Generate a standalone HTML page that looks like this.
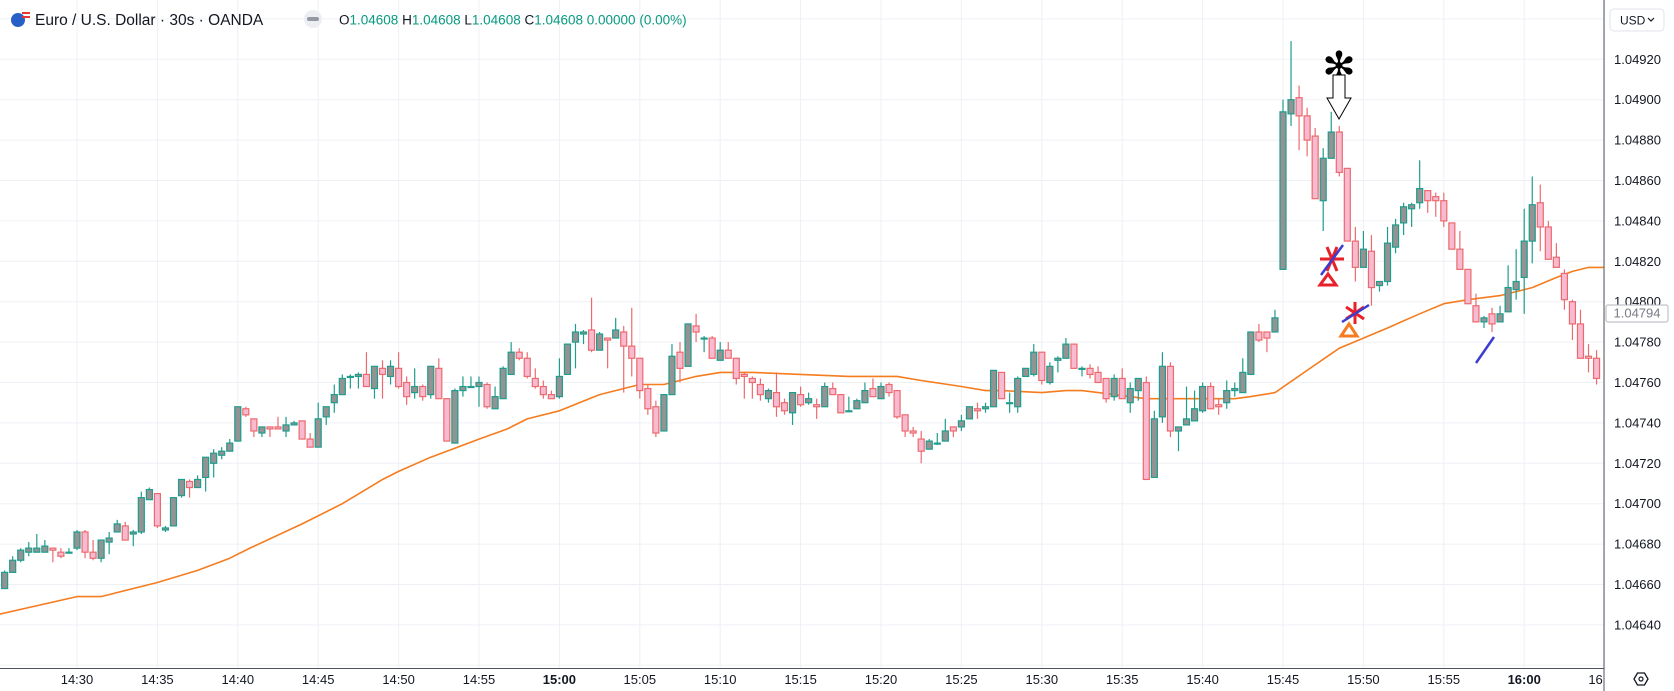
<!DOCTYPE html>
<html><head><meta charset="utf-8"><style>
html,body{margin:0;padding:0;background:#fff;}
svg{display:block;font-family:"Liberation Sans",sans-serif;}
</style></head><body>
<svg id="chart" width="1674" height="691" viewBox="0 0 1674 691" xmlns="http://www.w3.org/2000/svg">
<defs>
<clipPath id="plotClip"><rect x="0" y="0" width="1604" height="668"/></clipPath>
<clipPath id="timeClip"><rect x="0" y="668" width="1604" height="23"/></clipPath>
</defs>
<rect x="0" y="0" width="1674" height="691" fill="#ffffff"/>
<g id="grid"></g>
<g id="maLayer" clip-path="url(#plotClip)"></g>
<g id="candles" clip-path="url(#plotClip)"></g>
<g id="drawings">
  <text x="1339" y="80" text-anchor="middle" font-family="DejaVu Sans, sans-serif" font-size="40" fill="#000">✻</text>
  <polygon points="1333,75 1345,75 1345,98 1351,98 1339,119 1327,98 1333,98" fill="#fff" stroke="#000" stroke-width="1"/>
  <g stroke="#e8202a" stroke-width="3">
    <line x1="1320" y1="259" x2="1344" y2="259"/><line x1="1327" y1="247" x2="1337" y2="271"/><line x1="1337" y1="247" x2="1327" y2="271"/>
  </g>
  <line x1="1321" y1="275" x2="1343" y2="245" stroke="#3c3cd0" stroke-width="2.5"/>
  <polygon points="1328,274 1336,285 1320,285" fill="none" stroke="#e8202a" stroke-width="3"/>
  <g stroke="#e8202a" stroke-width="3">
    <line x1="1355" y1="302" x2="1355" y2="324"/><line x1="1346" y1="307" x2="1364" y2="319"/><line x1="1364" y1="307" x2="1346" y2="319"/>
  </g>
  <line x1="1342" y1="322" x2="1369" y2="305" stroke="#3c3cd0" stroke-width="2.5"/>
  <polygon points="1349,324 1357,336 1341,336" fill="none" stroke="#f57c20" stroke-width="3"/>
  <line x1="1476" y1="363" x2="1494" y2="337" stroke="#3c3cd0" stroke-width="2.5"/>
</g>
<g id="priceAxis"></g>
<g id="timeAxis"></g>
<line x1="1604" y1="0" x2="1604" y2="691" stroke="#50535e" stroke-width="1"/>
<line x1="0" y1="668.5" x2="1604" y2="668.5" stroke="#50535e" stroke-width="1"/>
<g>
  <rect x="1606" y="305" width="62" height="17" fill="#fff" stroke="#b2b5be" rx="2"/>
  <text x="1637" y="317.5" text-anchor="middle" font-size="13" fill="#787b86">1.04794</text>
</g>
<g>
  <rect x="1610" y="9" width="54" height="22" fill="#fff" stroke="#e0e3eb" rx="4"/>
  <text x="1620" y="24.5" font-size="12" fill="#131722">USD</text>
  <path d="M1648 18 l3 3 l3 -3" fill="none" stroke="#131722" stroke-width="1.2"/>
</g>
<g>
  <polygon points="1634,679 1637.5,673 1644.5,673 1648,679 1644.5,685 1637.5,685" fill="none" stroke="#131722" stroke-width="1.3"/>
  <circle cx="1641" cy="679" r="2" fill="none" stroke="#131722" stroke-width="1.2"/>
</g>
<g>
  <circle cx="18" cy="20" r="7" fill="#2860c8"/>
  <rect x="22" y="12" width="8" height="2" fill="#e53935"/><rect x="22" y="16" width="8" height="2" fill="#e53935"/>
  <text x="35" y="25" font-size="15.5" fill="#131722">Euro / U.S. Dollar · 30s · OANDA</text>
  <circle cx="313" cy="19" r="9" fill="#eceef2"/>
  <rect x="307" y="17" width="12" height="4" rx="2" fill="#9598a1"/>
  <text x="339" y="24.5" font-size="13.5"><tspan fill="#131722">O</tspan><tspan fill="#089981">1.04608 </tspan><tspan fill="#131722">H</tspan><tspan fill="#089981">1.04608 </tspan><tspan fill="#131722">L</tspan><tspan fill="#089981">1.04608 </tspan><tspan fill="#131722">C</tspan><tspan fill="#089981">1.04608 0.00000 (0.00%)</tspan></text>
</g>
</svg>
<script>
const startIndex = -9;
const opens = [1.04658,1.04666,1.04672,1.04676,1.04676,1.04676,1.04678,1.04676,1.04676,1.04678,1.04686,1.04676,1.04673,1.04681,1.04686,1.04689,1.04685,1.04686,1.04702,1.04705,1.04687,1.04689,1.04704,1.04711,1.04708,1.04713,1.04720,1.04724,1.04726,1.04731,1.04747,1.04742,1.04735,1.04738,1.04738,1.04736,1.04739,1.04741,1.04732,1.04728,1.04743,1.04750,1.04754,1.04763,1.04763,1.04764,1.04757,1.04767,1.04763,1.04767,1.04760,1.04755,1.04758,1.04754,1.04767,1.04752,1.04730,1.04756,1.04758,1.04758,1.04759,1.04747,1.04752,1.04764,1.04775,1.04772,1.04762,1.04758,1.04754,1.04753,1.04764,1.04780,1.04784,1.04786,1.04776,1.04782,1.04782,1.04785,1.04778,1.04772,1.04757,1.04748,1.04736,1.04754,1.04775,1.04768,1.04788,1.04782,1.04782,1.04771,1.04776,1.04772,1.04764,1.04762,1.04759,1.04752,1.04755,1.04750,1.04745,1.04754,1.04750,1.04749,1.04748,1.04757,1.04754,1.04746,1.04747,1.04750,1.04757,1.04752,1.04759,1.04756,1.04744,1.04736,1.04732,1.04727,1.04730,1.04731,1.04738,1.04738,1.04742,1.04747,1.04747,1.04748,1.04765,1.04750,1.04748,1.04763,1.04764,1.04775,1.04760,1.04771,1.04772,1.04779,1.04767,1.04767,1.04765,1.04762,1.04753,1.04762,1.04750,1.04756,1.04760,1.04713,1.04743,1.04768,1.04736,1.04739,1.04741,1.04746,1.04758,1.04749,1.04750,1.04756,1.04755,1.04764,1.04785,1.04785,1.04785,1.04816,1.04893,1.04901,1.04892,1.04882,1.04850,1.04871,1.04884,1.04866,1.04830,1.04817,1.04825,1.04808,1.04810,1.04827,1.04839,1.04846,1.04849,1.04855,1.04852,1.04850,1.04839,1.04826,1.04816,1.04798,1.04790,1.04794,1.04790,1.04795,1.04806,1.04812,1.04830,1.04849,1.04837,1.04822,1.04814,1.04800,1.04789,1.04773,1.04772];
const highs = [1.04667,1.04674,1.04678,1.04681,1.04685,1.04682,1.04678,1.04678,1.04678,1.04687,1.04687,1.04682,1.04682,1.04686,1.04692,1.04691,1.04687,1.04706,1.04708,1.04705,1.04689,1.04703,1.04712,1.04712,1.04714,1.04723,1.04727,1.04728,1.04732,1.04748,1.04748,1.04742,1.04738,1.04738,1.04743,1.04743,1.04741,1.04741,1.04735,1.04750,1.04748,1.04759,1.04764,1.04764,1.04765,1.04775,1.04768,1.04771,1.04771,1.04775,1.04763,1.04767,1.04759,1.04768,1.04772,1.04752,1.04757,1.04763,1.04763,1.04763,1.04760,1.04758,1.04768,1.04780,1.04777,1.04775,1.04767,1.04761,1.04756,1.04772,1.04779,1.04789,1.04786,1.04802,1.04785,1.04782,1.04792,1.04788,1.04797,1.04772,1.04759,1.04751,1.04754,1.04779,1.04780,1.04789,1.04794,1.04783,1.04783,1.04780,1.04780,1.04772,1.04765,1.04763,1.04762,1.04757,1.04765,1.04752,1.04755,1.04758,1.04755,1.04752,1.04760,1.04760,1.04754,1.04753,1.04752,1.04760,1.04762,1.04760,1.04760,1.04756,1.04744,1.04738,1.04736,1.04732,1.04735,1.04742,1.04738,1.04744,1.04748,1.04750,1.04750,1.04766,1.04765,1.04755,1.04763,1.04767,1.04779,1.04775,1.04770,1.04773,1.04782,1.04779,1.04768,1.04769,1.04768,1.04762,1.04764,1.04767,1.04760,1.04762,1.04763,1.04746,1.04775,1.04770,1.04738,1.04758,1.04756,1.04760,1.04760,1.04752,1.04761,1.04760,1.04772,1.04785,1.04789,1.04785,1.04796,1.04900,1.04929,1.04907,1.04896,1.04886,1.04876,1.04894,1.04887,1.04866,1.04837,1.04835,1.04833,1.04810,1.04837,1.04841,1.04849,1.04849,1.04870,1.04855,1.04854,1.04854,1.04839,1.04835,1.04816,1.04804,1.04793,1.04797,1.04798,1.04818,1.04826,1.04846,1.04862,1.04858,1.04840,1.04829,1.04816,1.04801,1.04796,1.04779,1.04776];
const lows = [1.04658,1.04666,1.04671,1.04674,1.04676,1.04676,1.04671,1.04673,1.04676,1.04677,1.04673,1.04672,1.04671,1.04675,1.04686,1.04682,1.04679,1.04685,1.04702,1.04688,1.04686,1.04689,1.04703,1.04703,1.04708,1.04706,1.04713,1.04722,1.04726,1.04731,1.04743,1.04733,1.04733,1.04733,1.04737,1.04733,1.04739,1.04732,1.04728,1.04728,1.04739,1.04745,1.04754,1.04757,1.04757,1.04758,1.04752,1.04752,1.04759,1.04757,1.04749,1.04752,1.04751,1.04752,1.04752,1.04731,1.04730,1.04753,1.04758,1.04748,1.04747,1.04747,1.04752,1.04764,1.04771,1.04762,1.04757,1.04752,1.04752,1.04752,1.04764,1.04767,1.04779,1.04775,1.04776,1.04767,1.04782,1.04755,1.04763,1.04752,1.04744,1.04733,1.04736,1.04754,1.04760,1.04768,1.04780,1.04775,1.04772,1.04771,1.04772,1.04759,1.04752,1.04752,1.04751,1.04750,1.04743,1.04744,1.04739,1.04748,1.04749,1.04742,1.04748,1.04754,1.04745,1.04746,1.04747,1.04750,1.04753,1.04752,1.04753,1.04742,1.04733,1.04733,1.04720,1.04727,1.04729,1.04731,1.04733,1.04736,1.04742,1.04742,1.04745,1.04748,1.04752,1.04745,1.04745,1.04763,1.04763,1.04759,1.04759,1.04765,1.04772,1.04767,1.04763,1.04762,1.04760,1.04750,1.04751,1.04752,1.04745,1.04751,1.04712,1.04713,1.04740,1.04733,1.04726,1.04739,1.04741,1.04745,1.04747,1.04744,1.04747,1.04753,1.04755,1.04764,1.04780,1.04775,1.04785,1.04816,1.04887,1.04875,1.04872,1.04851,1.04835,1.04871,1.04862,1.04830,1.04810,1.04817,1.04798,1.04805,1.04808,1.04824,1.04833,1.04837,1.04846,1.04844,1.04842,1.04837,1.04826,1.04816,1.04799,1.04790,1.04787,1.04785,1.04790,1.04795,1.04801,1.04794,1.04819,1.04825,1.04821,1.04817,1.04796,1.04781,1.04772,1.04765,1.04759];
const closes = [1.04666,1.04672,1.04677,1.04678,1.04678,1.04679,1.04677,1.04674,1.04676,1.04686,1.04676,1.04673,1.04682,1.04683,1.04690,1.04682,1.04686,1.04703,1.04707,1.04689,1.04688,1.04703,1.04712,1.04708,1.04712,1.04723,1.04725,1.04726,1.04730,1.04748,1.04744,1.04736,1.04738,1.04737,1.04737,1.04739,1.04740,1.04732,1.04728,1.04742,1.04748,1.04754,1.04762,1.04763,1.04764,1.04758,1.04768,1.04764,1.04768,1.04758,1.04753,1.04758,1.04753,1.04768,1.04752,1.04731,1.04756,1.04758,1.04758,1.04760,1.04748,1.04753,1.04767,1.04775,1.04772,1.04763,1.04758,1.04754,1.04752,1.04763,1.04779,1.04785,1.04785,1.04776,1.04784,1.04781,1.04786,1.04778,1.04772,1.04756,1.04747,1.04735,1.04754,1.04773,1.04767,1.04789,1.04785,1.04782,1.04772,1.04776,1.04772,1.04762,1.04763,1.04760,1.04754,1.04756,1.04748,1.04746,1.04755,1.04749,1.04752,1.04748,1.04758,1.04754,1.04745,1.04746,1.04751,1.04756,1.04753,1.04758,1.04755,1.04743,1.04736,1.04735,1.04726,1.04731,1.04730,1.04736,1.04736,1.04741,1.04748,1.04746,1.04748,1.04766,1.04752,1.04750,1.04762,1.04767,1.04775,1.04761,1.04768,1.04772,1.04779,1.04767,1.04767,1.04764,1.04760,1.04752,1.04762,1.04752,1.04757,1.04762,1.04712,1.04742,1.04768,1.04736,1.04738,1.04742,1.04747,1.04758,1.04747,1.04748,1.04756,1.04757,1.04765,1.04785,1.04781,1.04782,1.04792,1.04894,1.04900,1.04892,1.04880,1.04851,1.04871,1.04884,1.04864,1.04830,1.04817,1.04826,1.04807,1.04810,1.04829,1.04838,1.04847,1.04848,1.04856,1.04850,1.04850,1.04840,1.04826,1.04816,1.04799,1.04790,1.04792,1.04789,1.04794,1.04807,1.04810,1.04830,1.04848,1.04837,1.04821,1.04817,1.04801,1.04789,1.04772,1.04772,1.04762];
const maIndex = [-10,0,3,7,10,15,19,21.5,28,33,38,40,44,46,50,53.5,56,60,65,70,73,77,80,84,90,96,102,105,110,113,115,120,123,125,129,133,138,144,146,149,153,157,160,163,167,170,173,177,181,184,186,188,190];
const maValues = [1.04645,1.04654,1.04654,1.04658,1.04661,1.04667,1.04673,1.04678,1.04690,1.04700,1.04712,1.04716,1.04723,1.04726,1.04732,1.04737,1.04742,1.04746,1.04754,1.04759,1.04759,1.04763,1.04765,1.04765,1.04764,1.04763,1.04763,1.04761,1.04758,1.04756,1.04756,1.04755,1.04756,1.04756,1.04754,1.04752,1.04752,1.04752,1.04753,1.04755,1.04766,1.04777,1.04782,1.04787,1.04794,1.04799,1.04801,1.04803,1.04807,1.04812,1.04815,1.04817,1.04817];
const priceTicks = [1.04640,1.04660,1.04680,1.04700,1.04720,1.04740,1.04760,1.04780,1.04800,1.04820,1.04840,1.04860,1.04880,1.04900,1.04920];
const timeTicks = ['14:30','14:35','14:40','14:45','14:50','14:55','15:00','15:05','15:10','15:15','15:20','15:25','15:30','15:35','15:40','15:45','15:50','15:55','16:00','16:05'];
const boldTicks = ['15:00','16:00'];

const NS = 'http://www.w3.org/2000/svg';
const BAR = 8.04, X0 = 77, PTOP = 1.04920, YTOP = 59.3, PXPER = 40.4 / 0.0002;
function xScale(i) { return X0 + BAR * i; }
function yScale(p) { return YTOP + (PTOP - p) * PXPER; }
function mk(tag, attrs, parent) {
  const el = document.createElementNS(NS, tag);
  for (const k in attrs) el.setAttribute(k, attrs[k]);
  parent.appendChild(el);
  return el;
}

const grid = document.getElementById('grid');
for (let p = priceTicks[0] - 0.0002; p <= priceTicks[priceTicks.length - 1] + 0.00021; p += 0.0002) {
  const gl = mk('line', {x1: 0, x2: 1604, y1: yScale(p), y2: yScale(p), stroke: '#edf0f5', 'stroke-width': 1}, grid);
  
  
}
timeTicks.forEach((t, k) => {
  const x = xScale(k * 10);
  const gl = mk('line', {x1: x, x2: x, y1: 0, y2: 668, stroke: '#edf0f5', 'stroke-width': 1}, grid);
  
  
});

const pa = document.getElementById('priceAxis');
priceTicks.forEach(p => {
  const t = mk('text', {x: 1614, y: yScale(p) + 4.5, 'font-size': 13, fill: '#131722'}, pa);
  t.textContent = p.toFixed(5);
  
  
});

const ta = mk('g', {'clip-path': 'url(#timeClip)'}, document.getElementById('timeAxis'));
timeTicks.forEach((lab, k) => {
  const t = mk('text', {x: xScale(k * 10), y: 684, 'font-size': 13, fill: '#131722', 'text-anchor': 'middle', 'font-weight': boldTicks.includes(lab) ? 'bold' : 'normal'}, ta);
  t.textContent = lab;
  
  
});

const ma = document.getElementById('maLayer');
const maPts = maIndex.map((i, k) => xScale(i).toFixed(1) + ',' + yScale(maValues[k]).toFixed(1)).join(' ');
const maLine = mk('polyline', {points: maPts, fill: 'none', stroke: '#f57c1f', 'stroke-width': 1.6, 'stroke-linejoin': 'round'}, ma);



const cg = document.getElementById('candles');
for (let k = 0; k < opens.length; k++) {
  const o = opens[k], h = highs[k], l = lows[k], c = closes[k];
  const up = c >= o;
  const x = xScale(startIndex + k);
  const g = mk('g', {}, cg);
  
  
  const stroke = up ? '#1f9d8d' : '#ec6a6e';
  mk('line', {x1: x, x2: x, y1: yScale(h), y2: yScale(l), stroke: stroke, 'stroke-width': 1.2}, g);
  const yt = yScale(Math.max(o, c)), yb = yScale(Math.min(o, c));
  mk('rect', {x: x - 3, y: yt, width: 6, height: Math.max(1, yb - yt), fill: up ? '#939393' : '#f8bad0', stroke: stroke, 'stroke-width': 1.2}, g);
}
</script>
</body></html>
